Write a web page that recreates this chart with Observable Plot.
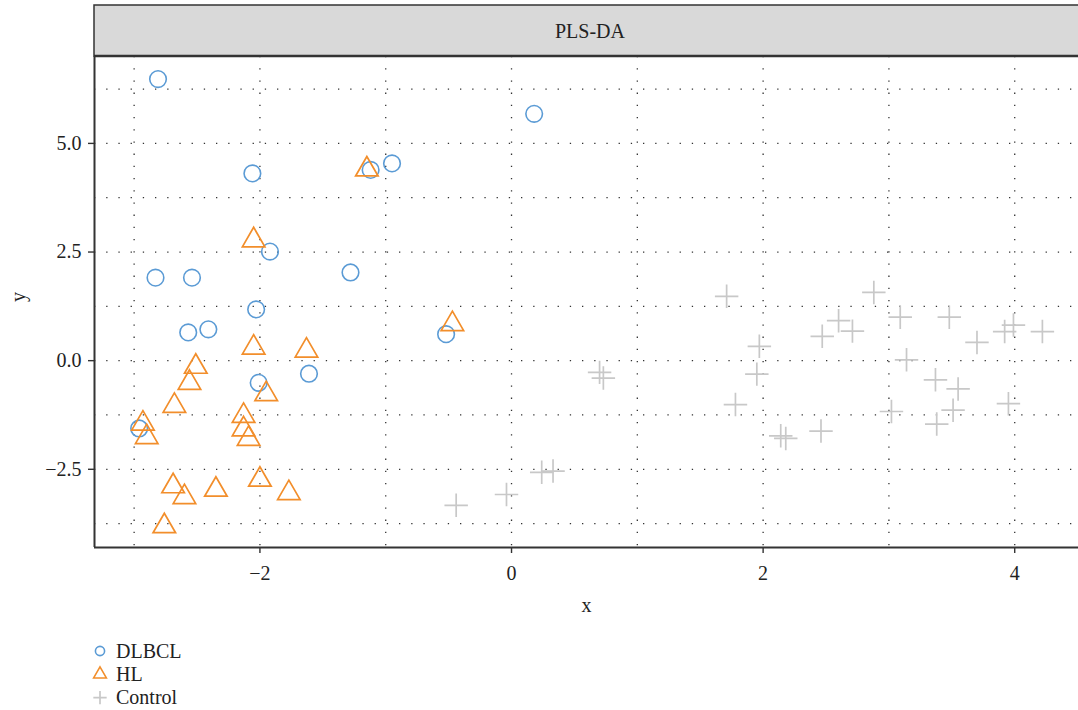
<!DOCTYPE html>
<html><head><meta charset="utf-8">
<script src="https://cdn.jsdelivr.net/npm/d3@7"></script>
<script src="https://cdn.jsdelivr.net/npm/@observablehq/plot@0.6"></script>
<style>
html,body{margin:0;padding:0;background:#fff;overflow:hidden;}
#chart svg, #legend svg{display:block;}
</style></head><body>
<div id="chart"></div>
<div id="legend"></div>
<script>
// ---- data ----
const groups = ["DLBCL", "HL", "Control"];
const groupColors = ["#5b9bd5", "#f28e2b", "#c8c8c8"];
const groupSymbols = ["circle", "triangle", "plus"];

const dlbclX = [-2.81, 0.18, -2.06, -0.95, -1.12, -1.92, -2.83, -2.54, -1.28, -2.03, -2.57, -2.41, -0.52, -2.01, -1.61, -2.96];
const dlbclY = [6.48, 5.68, 4.31, 4.54, 4.39, 2.51, 1.91, 1.91, 2.03, 1.18, 0.65, 0.72, 0.61, -0.51, -0.30, -1.56];

const hlX = [-2.05, -1.15, -0.47, -2.05, -1.63, -2.51, -2.56, -1.95, -2.68, -2.93, -2.90, -2.13, -2.13, -2.09, -2.69, -2.60, -2.35, -2.00, -1.77, -2.76];
const hlY = [2.77, 4.40, 0.84, 0.30, 0.23, -0.14, -0.51, -0.77, -1.04, -1.45, -1.76, -1.27, -1.58, -1.80, -2.89, -3.14, -2.97, -2.74, -3.05, -3.81];

const controlX = [1.71, 1.97, 1.95, 1.78, 0.70, 0.73, 0.24, 0.33, -0.04, -0.44, 2.88, 3.09, 3.48, 2.60, 2.71, 2.47, 3.70, 3.92, 3.99, 4.22, 3.14, 3.37, 3.55, 3.51, 3.02, 3.95, 3.38, 2.46, 2.14, 2.18];
const controlY = [1.48, 0.33, -0.31, -1.01, -0.27, -0.40, -2.57, -2.54, -3.08, -3.33, 1.57, 1.00, 1.00, 0.92, 0.68, 0.56, 0.42, 0.67, 0.82, 0.67, 0.02, -0.44, -0.65, -1.14, -1.17, -0.99, -1.46, -1.62, -1.73, -1.79];

const xTicks = [-2, 0, 2, 4];
const yTicks = [-2.5, 0, 2.5, 5];
const xGrid = [-3, -2, -1, 0, 1, 2, 3, 4];
const yGrid = [-3.75, -2.5, -1.25, 0, 1.25, 2.5, 3.75, 5, 6.25];
const xDomain = [-3.315, 4.507];
const yDomain = [-4.3, 7.0];
const stripLabel = "PLS-DA";
const xLabel = "x";
const yLabel = "y";

const toRows = (xs, ys) => xs.map((x, i) => ({x, y: ys[i]}));
const dlbcl = toRows(dlbclX, dlbclY);
const hl = toRows(hlX, hlY);
const control = toRows(controlX, controlY);

const FONT = '"Liberation Serif", Tinos, "Times New Roman", "DejaVu Serif", serif';
const gridStyle = {stroke: "#333", strokeOpacity: 1, strokeWidth: 1.3, strokeDasharray: "1.3,10.9"};

const plot = Plot.plot({
  width: 1078,
  height: 630,
  marginLeft: 94,
  marginRight: 0,
  marginTop: 56,
  marginBottom: 83,
  style: {fontFamily: FONT, fontSize: "20px", color: "#222", background: "#fff", overflow: "visible"},
  x: {domain: xDomain, axis: null},
  y: {domain: yDomain, axis: null},
  marks: [
    Plot.gridX(xGrid, gridStyle),
    Plot.gridY(yGrid, gridStyle),
    Plot.axisX(xTicks, {anchor: "bottom", tickSize: 6, tickPadding: 12, tickFormat: d3.format("d"), label: null, stroke: "#333", strokeWidth: 1.4, fontSize: 20}),
    Plot.axisY(yTicks, {anchor: "left", tickSize: 6, tickPadding: 7, tickFormat: d3.format(".1f"), label: null, stroke: "#333", strokeWidth: 1.4, fontSize: 20}),
    Plot.ruleX([xDomain[0]], {stroke: "#333", strokeWidth: 2}),
    Plot.ruleY([yDomain[0]], {stroke: "#333", strokeWidth: 2}),
    Plot.dot(dlbcl, {x: "x", y: "y", symbol: () => groupSymbols[0], r: 8.3, stroke: groupColors[0], strokeWidth: 1.6, fill: "none"}),
    Plot.dot(hl, {x: "x", y: "y", symbol: () => groupSymbols[1], r: 8.36, stroke: groupColors[1], strokeWidth: 1.7, fill: "none"}),
    Plot.dot(control, {x: "x", y: "y", symbol: () => groupSymbols[2], r: 7.6, stroke: groupColors[2], strokeWidth: 1.7, fill: "none"}),
    Plot.text([xLabel], {frameAnchor: "bottom", dy: 64, fontSize: 20, fill: "#222"}),
    Plot.text([yLabel], {frameAnchor: "left", dx: -76, rotate: -90, fontSize: 20, fill: "#222"})
  ],
  symbol: {domain: groupSymbols, range: groupSymbols}
});
document.getElementById("chart").appendChild(plot);

// strip header
const svg = d3.select(plot);
const strip = svg.append("g");
strip.append("rect").attr("x", 94).attr("y", 5).attr("width", 1100).attr("height", 51)
  .attr("fill", "#d9d9d9").attr("stroke", "#333").attr("stroke-width", 1.5);
strip.append("line").attr("x1", 94).attr("x2", 1100).attr("y1", 56).attr("y2", 56)
  .attr("stroke", "#333").attr("stroke-width", 2.5);
strip.append("text").attr("x", 590).attr("y", 31).attr("text-anchor", "middle")
  .attr("dominant-baseline", "central").attr("font-family", FONT).attr("font-size", 20)
  .attr("fill", "#222").text(stripLabel);

// legend
const leg = d3.select("#legend").append("svg").attr("width", 1078).attr("height", 80);
const legSizes = [66, 70, 60];
groups.forEach((g, i) => {
  const cy = 21 + i * 23.3;
  const sym = {circle: d3.symbolCircle, triangle: d3.symbolTriangle, plus: d3.symbolPlus}[groupSymbols[i]];
  leg.append("path").attr("d", d3.symbol(sym, legSizes[i])())
    .attr("transform", `translate(100,${cy})`)
    .attr("fill", "none").attr("stroke", groupColors[i]).attr("stroke-width", i === 2 ? 1.7 : 1.6);
  leg.append("text").attr("x", 116).attr("y", cy + 6.6).attr("font-family", FONT)
    .attr("font-size", 20).attr("fill", "#222").text(g);
});
</script>
</body></html>
